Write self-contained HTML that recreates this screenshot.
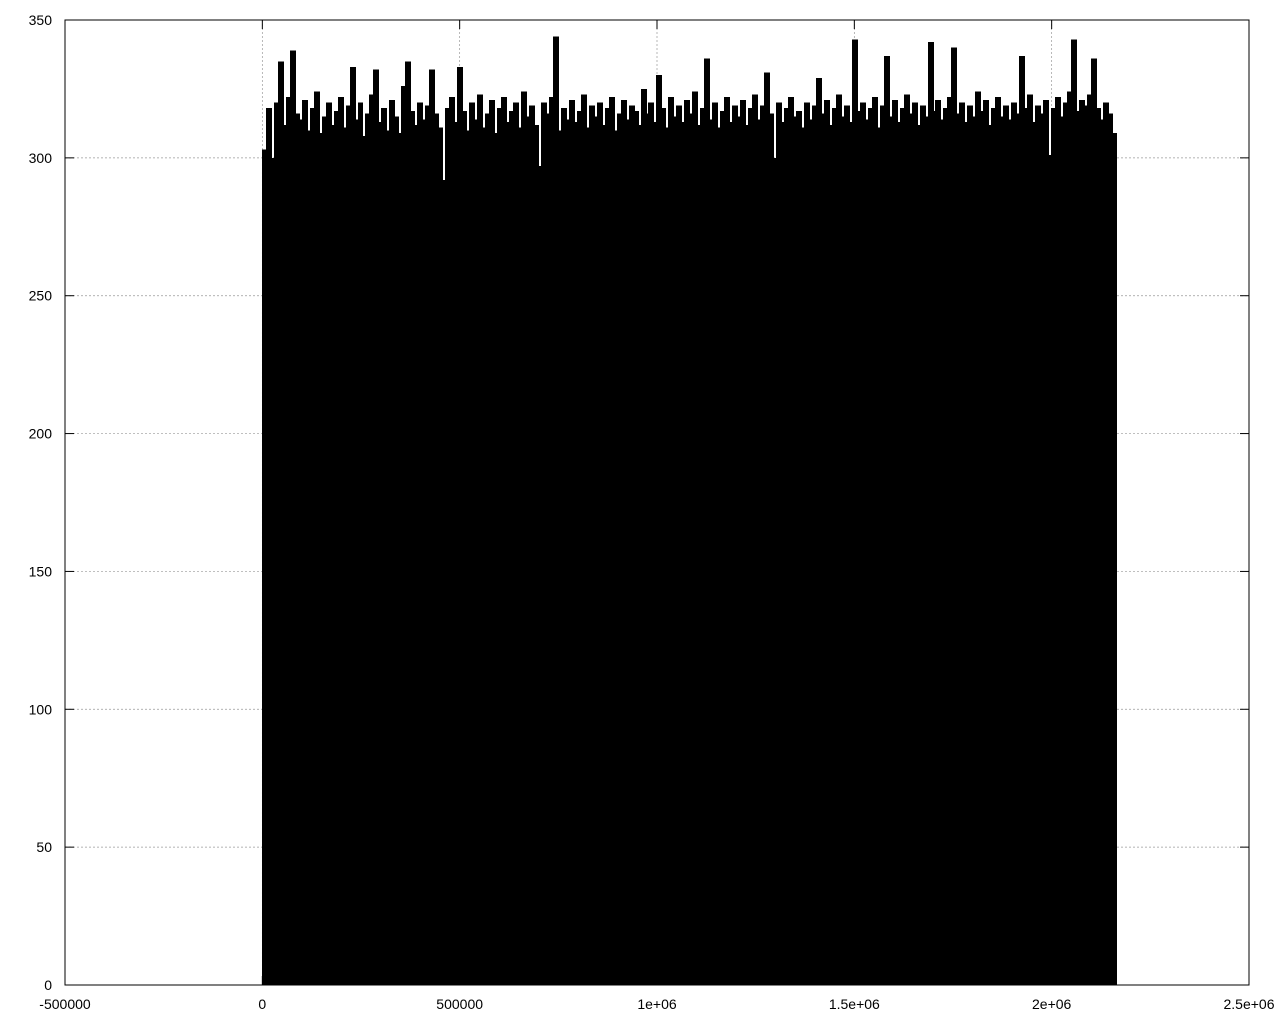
<!DOCTYPE html>
<html><head><meta charset="utf-8"><style>
html,body{margin:0;padding:0;background:#fff;}
svg{display:block;font-family:"Liberation Sans",sans-serif;font-size:14px;}
</style></head><body>
<svg id="chart" width="1280" height="1024" xmlns="http://www.w3.org/2000/svg">
<g id="grid"></g>
<g id="bars" shape-rendering="crispEdges"></g>
<g id="axes"></g>
</svg>
<script>
const xTicks = [-500000, 0, 500000, 1000000, 1500000, 2000000, 2500000];
const xTickLabels = ["-500000", "0", "500000", "1e+06", "1.5e+06", "2e+06", "2.5e+06"];
const yTicks = [0, 50, 100, 150, 200, 250, 300, 350];
const yTickLabels = ["0", "50", "100", "150", "200", "250", "300", "350"];
const binStart = 0;
const binWidth = 10100;
const counts = [
303,318,300,320,335,312,322,339,316,314,
321,310,318,324,309,315,320,312,317,322,
311,319,333,314,320,308,316,323,332,313,
318,310,321,315,309,326,335,317,312,320,
314,319,332,316,311,292,318,322,313,333,
317,310,320,314,323,311,316,321,309,318,
322,313,317,320,311,324,315,319,312,297,
320,316,322,344,310,318,314,321,313,317,
323,311,319,315,320,312,318,322,310,316,
321,314,319,317,312,325,316,320,313,330,
318,311,322,315,319,313,321,316,324,312,
318,336,314,320,311,317,322,313,319,315,
321,312,318,323,314,319,331,316,300,320,
313,318,322,315,317,311,320,314,319,329,
316,321,312,318,323,315,319,313,343,317,
320,314,318,322,311,319,337,315,321,313,
318,323,316,320,312,319,315,342,317,321,
314,318,322,340,316,320,313,319,315,324,
317,321,312,318,322,315,319,314,320,316,
337,318,323,313,319,316,321,301,318,322,
315,320,324,343,317,321,319,323,336,318,
314,320,316,309];

const L=65,R=1249,T=20,B=985;
const xMin=-500000,xMax=2500000,yMin=0,yMax=350;
const xs=v=>L+(v-xMin)/(xMax-xMin)*(R-L);
const ys=v=>B-(v-yMin)/(yMax-yMin)*(B-T);
const NS="http://www.w3.org/2000/svg";
function mk(tag,attrs,parent){const e=document.createElementNS(NS,tag);for(const k in attrs)e.setAttribute(k,attrs[k]);parent.appendChild(e);return e;}
const grid=document.getElementById('grid'),bars=document.getElementById('bars'),axes=document.getElementById('axes');

xTicks.forEach((v,i)=>{
  const x=xs(v);
  if(i>0&&i<xTicks.length-1){
    const g=mk('line',{x1:x,y1:T,x2:x,y2:B,stroke:'#999','stroke-width':0.7,'stroke-dasharray':'2,2'},grid);
    
    
  }
  mk('line',{x1:x,y1:B,x2:x,y2:B-9,stroke:'#000'},axes);
  mk('line',{x1:x,y1:T,x2:x,y2:T+9,stroke:'#000'},axes);
  const t=mk('text',{x:x,y:1009,'text-anchor':'middle'},axes);
  t.textContent=xTickLabels[i];
  
  
});
yTicks.forEach((v,i)=>{
  const y=ys(v);
  if(i>0&&i<yTicks.length-1){
    const g=mk('line',{x1:L,y1:y,x2:R,y2:y,stroke:'#999','stroke-width':0.7,'stroke-dasharray':'2,2'},grid);
    
    
  }
  mk('line',{x1:L,y1:y,x2:L+9,y2:y,stroke:'#000'},axes);
  mk('line',{x1:R,y1:y,x2:R-9,y2:y,stroke:'#000'},axes);
  const t=mk('text',{x:52,y:y+5,'text-anchor':'end'},axes);
  t.textContent=yTickLabels[i];
  
  
});
counts.forEach((c,i)=>{
  const x0=Math.floor(xs(binStart+i*binWidth)),x1=Math.ceil(xs(binStart+(i+1)*binWidth));
  const r=mk('rect',{x:x0,y:ys(c),width:Math.max(x1-x0,1)+1,height:ys(0)-ys(c),fill:'#000'},bars);
  
  
});
const frame=mk('rect',{x:L,y:T,width:R-L,height:B-T,fill:'none',stroke:'#000','stroke-width':1},axes);


</script>
</body></html>
